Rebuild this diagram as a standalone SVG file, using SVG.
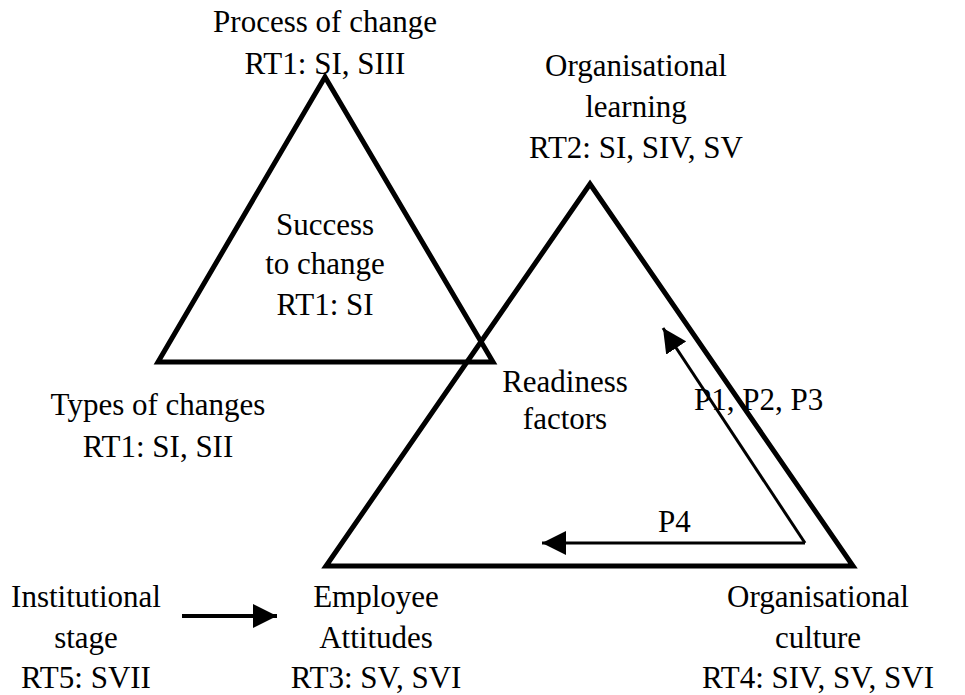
<svg xmlns="http://www.w3.org/2000/svg" width="965" height="695" viewBox="0 0 965 695">
  <style>
    .tri { fill: none; stroke: #000; stroke-width: 5; stroke-linejoin: miter; }
    .conn { stroke: #000; stroke-width: 3; fill: none; }
  </style>
  <defs>
    <marker id="arrowHead" viewBox="0 0 8 8" refX="8" refY="4" markerWidth="8" markerHeight="8" markerUnits="strokeWidth" orient="auto">
      <path d="M0,0 L8,4 L0,8 Z" fill="#000"/>
    </marker>
    <marker id="arrowHeadBold" viewBox="0 0 6 6" refX="6" refY="3" markerWidth="6" markerHeight="6" markerUnits="strokeWidth" orient="auto">
      <path d="M0,0 L6,3 L0,6 Z" fill="#000"/>
    </marker>
  </defs>
  <rect width="965" height="695" fill="#fff"/>

  <g font-family="'Liberation Serif', 'DejaVu Serif', serif" font-size="31" fill="#000">
    <!-- change triangle -->
    <g id="change-triangle" text-anchor="middle">
      <polygon class="tri" points="325,77 158,362 493,362"/>
      <text x="325" y="235">Success</text>
      <text x="325" y="274">to change</text>
      <text x="325" y="315">RT1: SI</text>
    </g>

    <!-- readiness triangle -->
    <g id="readiness-triangle" text-anchor="middle">
      <polygon class="tri" points="590,184 326,566 853,566"/>
      <text x="565" y="392">Readiness</text>
      <text x="565" y="429">factors</text>
    </g>

    <g id="process-of-change" text-anchor="middle">
      <text x="325" y="32">Process of change</text>
      <text x="325" y="74">RT1: SI, SIII</text>
    </g>

    <g id="organisational-learning" text-anchor="middle">
      <text x="636" y="76">Organisational</text>
      <text x="636" y="117">learning</text>
      <text x="636" y="158">RT2: SI, SIV, SV</text>
    </g>

    <g id="types-of-changes" text-anchor="middle">
      <text x="158" y="415">Types of changes</text>
      <text x="158" y="457">RT1: SI, SII</text>
    </g>

    <g id="institutional-stage" text-anchor="middle">
      <text x="86" y="607">Institutional</text>
      <text x="86" y="648">stage</text>
      <text x="86" y="688">RT5: SVII</text>
    </g>

    <g id="employee-attitudes" text-anchor="middle">
      <text x="376" y="607">Employee</text>
      <text x="376" y="648">Attitudes</text>
      <text x="376" y="688">RT3: SV, SVI</text>
    </g>

    <g id="organisational-culture" text-anchor="middle">
      <text x="818" y="607">Organisational</text>
      <text x="818" y="648">culture</text>
      <text x="818" y="688">RT4: SIV, SV, SVI</text>
    </g>

    <!-- connectors -->
    <g id="connectors">
      <line class="conn" x1="805" y1="543" x2="663" y2="328" marker-end="url(#arrowHead)"/>
      <line class="conn" x1="805" y1="543" x2="542" y2="543" marker-end="url(#arrowHead)"/>
      <line class="conn" x1="182" y1="616" x2="277" y2="616" style="stroke-width:4" marker-end="url(#arrowHeadBold)"/>
      <text x="694" y="410">P1, P2, P3</text>
      <text x="658" y="532">P4</text>
    </g>
  </g>
</svg>
